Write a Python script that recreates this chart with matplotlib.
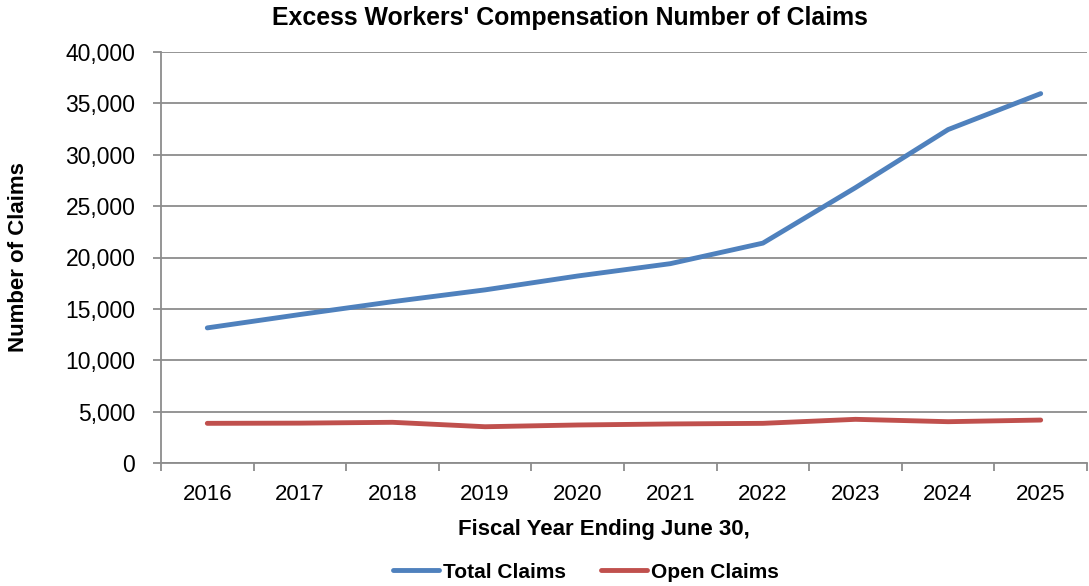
import numpy as np
import matplotlib.pyplot as plt
from matplotlib.ticker import FuncFormatter, FixedLocator

plt.rcParams['font.family'] = ['Liberation Sans', 'DejaVu Sans']

anos = ['2016', '2017', '2018', '2019', '2020', '2021', '2022', '2023', '2024', '2025']
total_claims = [13150, 14450, 15700, 16850, 18200, 19400, 21400, 26800, 32450, 35950]
open_claims = [3860, 3880, 3960, 3530, 3700, 3800, 3860, 4250, 4020, 4180]

W, H = 1089, 586
fig = plt.figure(figsize=(W / 100, H / 100), dpi=100)
ax = fig.add_axes([161 / W, 1 - 463 / H, 926 / W, 411 / H])

x = np.arange(len(anos))
ax.plot(x, total_claims, color='#4F81BD', lw=3.5, label='Total Claims', solid_capstyle='round')
ax.plot(x, open_claims, color='#C0504D', lw=3.5, label='Open Claims', solid_capstyle='round')

ax.set_xlim(-0.5, len(anos) - 0.5)
ax.set_ylim(0, 40000)
ax.set_yticks(np.arange(0, 40001, 5000))
ax.yaxis.set_major_formatter(FuncFormatter(lambda v, p: f'{int(v):,}'))
ax.grid(axis='y', color='#8c8c8c', lw=1.3)
ax.set_axisbelow(True)

# ticks entre categorias, rotulos no centro
ax.set_xticks(x)
ax.set_xticklabels(anos)
ax.tick_params(axis='x', which='major', length=0, pad=15, labelsize=16)
ax.xaxis.set_minor_locator(FixedLocator(np.arange(-0.5, len(anos), 1)))
ax.tick_params(axis='x', which='minor', length=5.5, color='#8c8c8c', width=1.3)
ax.tick_params(axis='y', length=6, color='#8c8c8c', width=1.3, labelsize=16.5, pad=12.5)

for s in ['top', 'right']:
    ax.spines[s].set_visible(False)
for s in ['left', 'bottom']:
    ax.spines[s].set_color('#8c8c8c')
    ax.spines[s].set_linewidth(1.3)

fig.text(570 / W, 1 - 18.5 / H, "Excess Workers' Compensation Number of Claims",
         fontsize=17.9, fontweight='bold', ha='center', va='center')
fig.text(604 / W, 1 - 530 / H, 'Fiscal Year Ending June 30,',
         fontsize=16, fontweight='bold', ha='center', va='center')
fig.text(19 / W, 1 - 257.5 / H, 'Number of Claims', rotation=90,
         fontsize=16, fontweight='bold', ha='center', va='center')

fig.legend(loc='center', bbox_to_anchor=(586 / W, 1 - 572 / H), ncol=2, frameon=False,
           prop={'weight': 'bold', 'size': 15}, handlelength=2.2, handletextpad=0.2, columnspacing=1.7)

fig.savefig('out.png', dpi=100)
